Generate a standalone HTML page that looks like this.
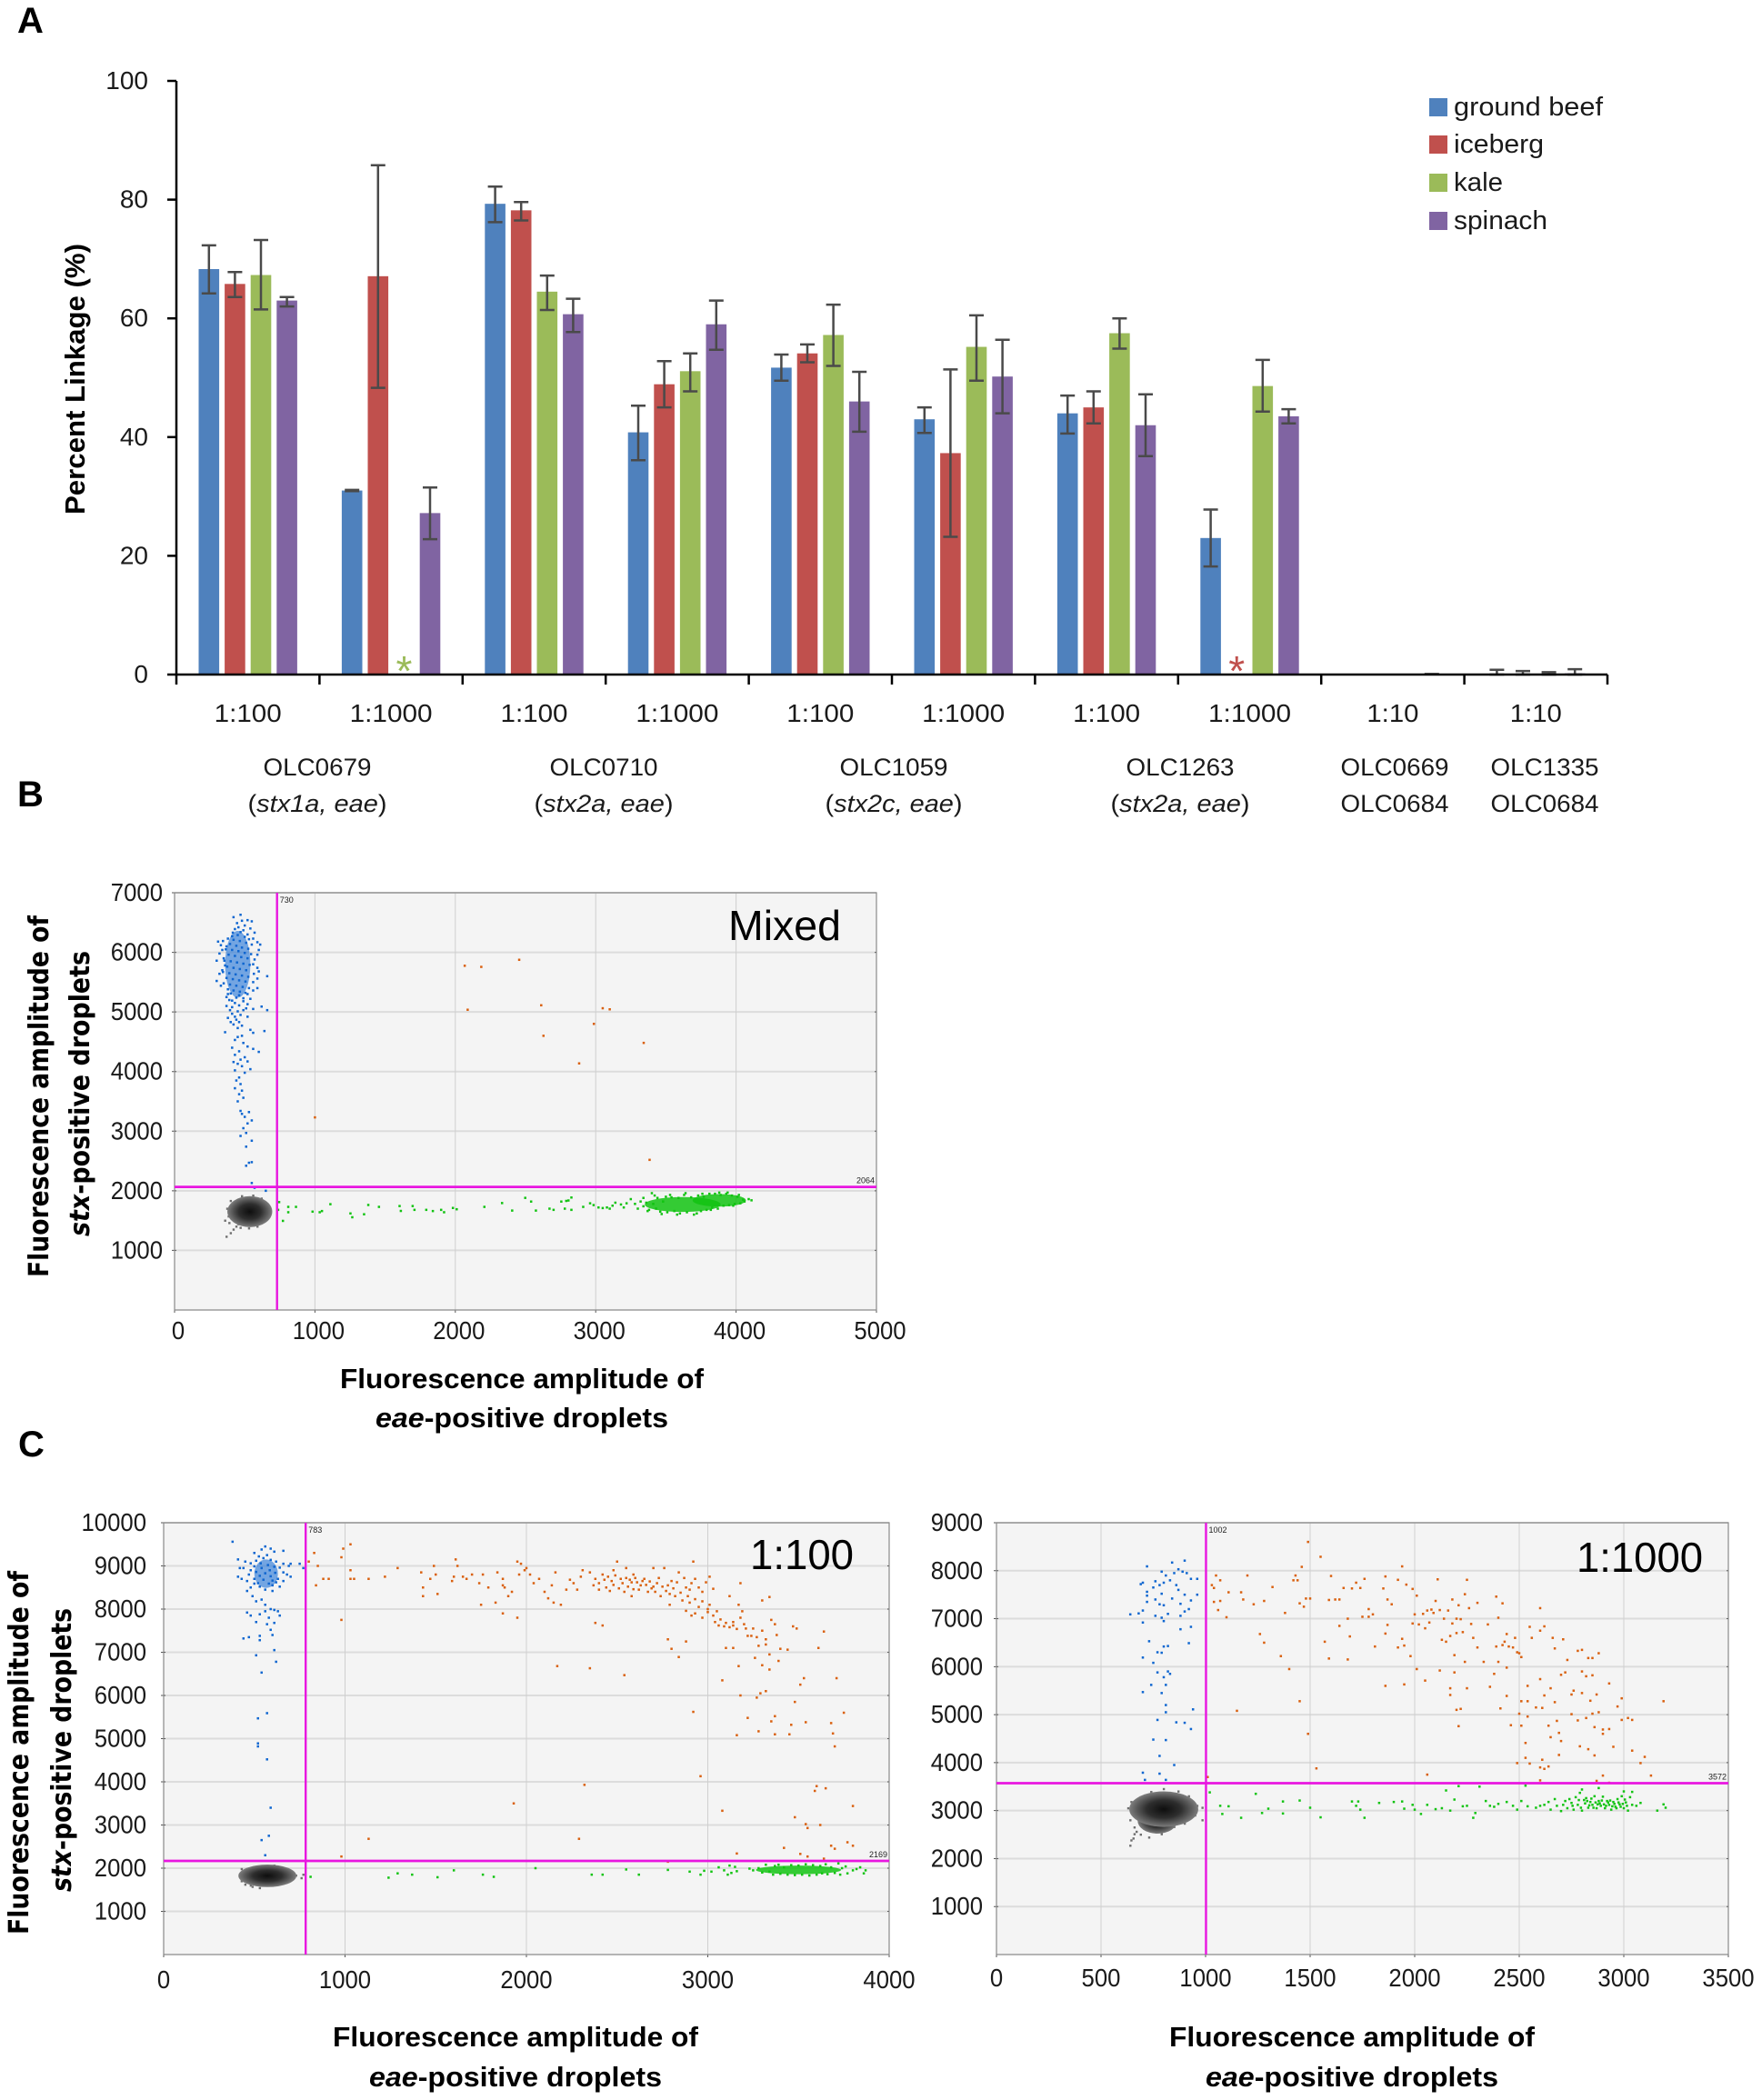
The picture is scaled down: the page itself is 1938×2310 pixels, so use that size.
<!DOCTYPE html>
<html lang="en">
<head>
<meta charset="utf-8">
<title>Percent linkage and droplet amplitude plots</title>
<style>
html,body{margin:0;padding:0;background:#fff}
svg{display:block}
text{font-family:"Liberation Sans",sans-serif;fill:#1a1a1a}
.panel{font-weight:bold;font-size:40px;fill:#000}
.tickA{font-size:28px}
.lab{font-size:27px}
.legend{font-size:29px}
.tick{font-size:28px}
.title{font-size:31px;font-weight:bold;fill:#000}
.ytitle{font-family:"DejaVu Sans",sans-serif;font-size:30px;font-weight:bold;fill:#000}
.big{font-size:46px;fill:#000}
.small{font-size:9px;fill:#222}
</style>
</head>
<body>
<svg id="figure" xmlns="http://www.w3.org/2000/svg" width="1938" height="2310" viewBox="0 0 1938 2310">
<defs>
<radialGradient id="greyBlob"><stop offset="0" stop-color="#0e0e0e"/><stop offset="0.5" stop-color="#2e2e2e"/><stop offset="0.8" stop-color="#5c5c5c"/><stop offset="1" stop-color="#7d7d7d"/></radialGradient>
</defs>
<rect width="1938" height="2310" fill="#fff"/>

<text class="panel" x="19" y="36">A</text>
<text class="panel" x="19" y="887">B</text>
<text class="panel" x="20" y="1602">C</text>

<g id="barChart"></g>
<text class="title" x="0" y="0" transform="translate(93 417) rotate(-90)" text-anchor="middle" textLength="298" lengthAdjust="spacingAndGlyphs">Percent Linkage (%)</text>

<g>
<text class="lab" x="349" y="853" text-anchor="middle" textLength="119" lengthAdjust="spacingAndGlyphs">OLC0679</text>
<text class="lab" x="349" y="893" text-anchor="middle" textLength="153" lengthAdjust="spacingAndGlyphs">(<tspan font-style="italic">stx1a, eae</tspan>)</text>
<text class="lab" x="664" y="853" text-anchor="middle" textLength="119" lengthAdjust="spacingAndGlyphs">OLC0710</text>
<text class="lab" x="664" y="893" text-anchor="middle" textLength="153" lengthAdjust="spacingAndGlyphs">(<tspan font-style="italic">stx2a, eae</tspan>)</text>
<text class="lab" x="983" y="853" text-anchor="middle" textLength="119" lengthAdjust="spacingAndGlyphs">OLC1059</text>
<text class="lab" x="983" y="893" text-anchor="middle" textLength="151" lengthAdjust="spacingAndGlyphs">(<tspan font-style="italic">stx2c, eae</tspan>)</text>
<text class="lab" x="1298" y="853" text-anchor="middle" textLength="119" lengthAdjust="spacingAndGlyphs">OLC1263</text>
<text class="lab" x="1298" y="893" text-anchor="middle" textLength="153" lengthAdjust="spacingAndGlyphs">(<tspan font-style="italic">stx2a, eae</tspan>)</text>
<text class="lab" x="1534" y="853" text-anchor="middle" textLength="119" lengthAdjust="spacingAndGlyphs">OLC0669</text>
<text class="lab" x="1534" y="893" text-anchor="middle" textLength="119" lengthAdjust="spacingAndGlyphs">OLC0684</text>
<text class="lab" x="1699" y="853" text-anchor="middle" textLength="119" lengthAdjust="spacingAndGlyphs">OLC1335</text>
<text class="lab" x="1699" y="893" text-anchor="middle" textLength="119" lengthAdjust="spacingAndGlyphs">OLC0684</text>
</g>

<g>
<rect x="1572" y="108" width="20" height="20" fill="#4f81bd"/>
<text class="legend" x="1599" y="127" textLength="164" lengthAdjust="spacingAndGlyphs">ground beef</text>
<rect x="1572" y="149" width="20" height="20" fill="#c0504d"/>
<text class="legend" x="1599" y="168" textLength="99" lengthAdjust="spacingAndGlyphs">iceberg</text>
<rect x="1572" y="191" width="20" height="20" fill="#9bbb59"/>
<text class="legend" x="1599" y="210" textLength="54" lengthAdjust="spacingAndGlyphs">kale</text>
<rect x="1572" y="233" width="20" height="20" fill="#8064a2"/>
<text class="legend" x="1599" y="252" textLength="103" lengthAdjust="spacingAndGlyphs">spinach</text>
</g>

<g id="plotMixed"></g>
<g id="plot100"></g>
<g id="plot1000"></g>

<text class="big" x="801" y="1034" textLength="124" lengthAdjust="spacingAndGlyphs">Mixed</text>
<text class="big" x="825" y="1726" textLength="114" lengthAdjust="spacingAndGlyphs">1:100</text>
<text class="big" x="1734" y="1729" textLength="139" lengthAdjust="spacingAndGlyphs">1:1000</text>

<text class="title" x="574" y="1527" text-anchor="middle" textLength="400" lengthAdjust="spacingAndGlyphs">Fluorescence amplitude of</text>
<text class="title" x="574" y="1570" text-anchor="middle" textLength="322" lengthAdjust="spacingAndGlyphs"><tspan font-style="italic">eae</tspan>-positive droplets</text>
<text class="ytitle" transform="translate(53 1206) rotate(-90)" text-anchor="middle" textLength="398" lengthAdjust="spacingAndGlyphs">Fluorescence amplitude of</text>
<text class="ytitle" transform="translate(98 1203) rotate(-90)" text-anchor="middle" textLength="314" lengthAdjust="spacingAndGlyphs"><tspan font-style="italic">stx</tspan>-positive droplets</text>

<text class="title" x="567" y="2251" text-anchor="middle" textLength="402" lengthAdjust="spacingAndGlyphs">Fluorescence amplitude of</text>
<text class="title" x="567" y="2295" text-anchor="middle" textLength="322" lengthAdjust="spacingAndGlyphs"><tspan font-style="italic">eae</tspan>-positive droplets</text>
<text class="ytitle" transform="translate(31 1928) rotate(-90)" text-anchor="middle" textLength="400" lengthAdjust="spacingAndGlyphs">Fluorescence amplitude of</text>
<text class="ytitle" transform="translate(78 1925) rotate(-90)" text-anchor="middle" textLength="312" lengthAdjust="spacingAndGlyphs"><tspan font-style="italic">stx</tspan>-positive droplets</text>

<text class="title" x="1487" y="2251" text-anchor="middle" textLength="402" lengthAdjust="spacingAndGlyphs">Fluorescence amplitude of</text>
<text class="title" x="1487" y="2295" text-anchor="middle" textLength="322" lengthAdjust="spacingAndGlyphs"><tspan font-style="italic">eae</tspan>-positive droplets</text>
</svg>

<script>
// ---------- Panel A data ----------
const dilutions = ["1:100","1:1000","1:100","1:1000","1:100","1:1000","1:100","1:1000","1:10","1:10"];
const barTicks = [0,20,40,60,80,100];
const groundBeef = [68.3,31,79.3,40.8,51.7,43,44,23,0,0];
const iceberg = [65.8,67.1,78.2,48.9,54.1,37.3,45,null,0,0];
const kale = [67.3,null,64.5,51.1,57.2,55.2,57.5,48.6,0,0];
const spinach = [63,27.2,60.7,59,46,50.2,42,43.5,0.1,0.2];
const groundBeefHigh = [72.3,31.1,82.2,45.3,53.9,45,47,27.8,0,0.8];
const groundBeefLow = [64.2,30.9,76.2,36.1,49.5,40.7,40.6,18.2,0,0];
const icebergHigh = [67.8,85.8,79.6,52.8,55.6,51.4,47.7,null,0,0.6];
const icebergLow = [63.6,48.3,76.5,45,52.6,23.2,42.3,null,0,0];
const kaleHigh = [73.2,null,67.2,54.1,62.3,60.5,60,53,0,0.4];
const kaleLow = [61.5,null,61.4,47.7,52,49.5,54.9,44.3,0,0];
const spinachHigh = [63.6,31.5,63.3,63,51,56.4,47.2,44.7,0.1,0.9];
const spinachLow = [62,22.8,57.7,54.7,40.9,44,36.8,42.3,0.1,0];

// ---------- Mixed plot data ----------
const mixedXTicks = [0,1000,2000,3000,4000,5000];
const mixedYTicks = [1000,2000,3000,4000,5000,6000,7000];
const mixedThreshold = [730,2064];
const mixedGrey = [[536,1650,160,260]];
const mixedFringe = [[370,1230],[400,1290],[420,1350],[440,1400],[455,1440],[390,1460],[360,1500],[640,1530],[670,1600],[680,1680],[660,1780],[620,1870],[560,1920],[480,1910],[400,1830],[375,1700],[385,1570],[470,1380],[530,1370],[590,1400]];
const mixedBlueCore = [[450,5800,90,560]];
const mixedGreenCore = [[3620,1770,270,125],[3880,1840,190,105]];
const mixedBlue = [[470,6630],[420,6590],[520,6540],[480,6530],[550,6520],[445,6490],[500,6450],[540,6400],[430,6390],[470,6340],[570,6330],[520,6300],[410,6270],[560,6230],[590,6170],[310,6180],[345,6190],[330,6120],[610,6130],[370,6100],[600,6040],[340,6040],[320,5980],[590,5960],[350,5900],[570,5880],[300,5860],[560,5800],[360,5780],[590,5740],[340,5700],[600,5680],[320,5640],[660,5600],[590,5560],[300,5520],[350,5480],[560,5500],[330,5440],[590,5400],[380,5380],[560,5360],[400,5310],[520,5300],[370,5250],[460,5280],[540,5220],[390,5200],[430,5150],[490,5180],[620,5090],[370,5100],[410,5080],[560,5050],[660,5030],[450,5010],[490,5030],[410,4970],[470,4950],[380,4900],[520,4920],[440,4870],[460,4830],[420,4790],[480,4770],[450,4730],[640,4680],[360,4660],[540,4700],[560,4650],[480,4600],[450,4580],[430,4530],[490,4480],[520,4420],[410,4400],[560,4380],[460,4340],[600,4330],[430,4280],[500,4240],[470,4200],[420,4160],[520,4170],[450,4130],[480,4090],[540,4040],[430,4020],[500,3980],[460,3900],[440,3850],[470,3790],[430,3720],[480,3680],[460,3620],[490,3560],[450,3500],[470,3340],[480,3290],[530,3320],[500,3240],[550,3180],[520,3130],[490,3050],[470,2920],[510,2970],[550,2840],[510,2740],[530,2470],[510,2420],[550,2480],[550,2130],[570,2050],[650,2000],[455,6420],[490,6370],[415,6330],[450,6290],[500,6260],[530,6220],[380,6230],[420,6210],[465,6190],[510,6160],[550,6130],[395,6140],[440,6110],[480,6080],[525,6060],[365,6050],[410,6040],[455,6020],[500,5990],[545,5970],[385,5960],[430,5940],[475,5920],[520,5900],[355,5860],[400,5850],[445,5830],[490,5810],[535,5790],[375,5760],[420,5740],[465,5720],[510,5700],[345,5670],[390,5650],[435,5630],[480,5610],[525,5590],[565,5640],[370,5570],[415,5550],[460,5530],[505,5510],[395,5460],[440,5440],[485,5420],[530,5400],[420,5360],[465,5340],[505,5320],[380,5300],[440,5240],[490,5230],[410,5190],[520,5130],[460,5110],[395,5030],[510,5060],[430,4920],[400,4830]];
const mixedOrange = [[2067,5775],[2185,5756],[2455,5875],[2088,5037],[2612,5112],[2628,4600],[3050,5062],[3100,5044],[2987,4800],[2882,4137],[3342,4481],[3384,2519],[1000,3231]];
const mixedGreen = [[738,1680],[745,1810],[810,1730],[810,1640],[772,1495],[865,1730],[983,1650],[1034,1640],[1050,1660],[1110,1775],[1253,1620],[1266,1556],[1350,1606],[1380,1762],[1456,1730],[1603,1744],[1612,1662],[1696,1744],[1709,1680],[1793,1680],[1840,1660],[1899,1680],[1920,1640],[1983,1712],[2010,1690],[2207,1730],[2333,1794],[2405,1668],[2498,1881],[2540,1819],[2574,1668],[2671,1700],[2700,1680],[2755,1819],[2790,1830],[2806,1837],[2827,1887],[2827,1680],[2780,1700],[2911,1730],[2960,1790],[2985,1760],[3020,1720],[3050,1710],[3080,1720],[3100,1700],[3120,1750],[3140,1800],[3180,1770],[3200,1720],[3220,1790],[3250,1860],[3280,1780],[3300,1700],[3320,1820],[3340,1740],[3360,1800],[3380,1680],[3400,1960],[3410,1780],[3430,1700],[3440,1880],[3460,1650],[3480,1820],[3500,1900],[3510,1640],[3540,1890],[3560,1660],[3590,1880],[3600,1620],[3630,1930],[3650,1640],[3680,1890],[3700,1600],[3730,1920],[3750,1660],[3770,1900],[3790,1680],[3810,1950],[3830,1720],[3850,1950],[3870,1700],[3890,1930],[3910,1750],[3930,1950],[3950,1760],[3970,1920],[3990,1780],[4010,1900],[4030,1790],[4050,1850],[4090,1860],[4110,1840],[3340,1880],[3370,1660],[3420,1920],[3470,1610],[3530,1930],[3580,1600],[3640,1960],[3720,1620],[3760,1950],[3820,1680],[3880,1970],[3940,1970],[3980,1750],[4020,1930],[4060,1820]];

// ---------- 1:100 plot data ----------
const d100XTicks = [0,1000,2000,3000,4000];
const d100YTicks = [1000,2000,3000,4000,5000,6000,7000,8000,9000,10000];
const d100Threshold = [783,2169];
const d100Grey = [[572,1823,160,260]];
const d100Fringe = [[450,1620],[490,1570],[530,1540],[580,1600],[620,1620],[430,1700],[420,1850],[430,1980],[500,2030],[610,2060],[660,1980],[700,1920],[730,1830],[770,1850],[760,1770],[700,1730],[480,1600]];
const d100BlueCore = [[565,8820,65,330]];
const d100GreenCore = [[3500,1960,235,100]];
const d100Blue = [[380,9560],[560,9450],[590,9400],[540,9380],[500,9300],[570,9250],[610,9330],[660,9350],[450,9100],[410,9150],[510,9120],[620,9100],[660,9050],[700,9050],[750,9050],[770,8950],[690,9000],[440,8950],[420,8950],[480,8900],[660,8850],[680,8800],[700,8750],[410,8750],[430,8700],[460,8650],[630,8700],[520,8600],[660,8650],[600,8550],[640,8520],[480,8500],[560,8450],[600,8420],[490,8300],[540,8220],[510,8180],[560,8100],[590,8000],[610,7980],[560,7950],[630,7950],[460,7920],[480,7850],[530,7880],[580,7800],[640,7850],[510,7700],[570,7650],[610,7680],[590,7520],[530,7380],[470,7350],[440,7320],[600,7400],[530,7280],[610,7050],[510,6930],[620,6780],[540,6530],[520,5470],[570,5590],[520,4890],[520,4820],[570,4520],[590,3400],[580,2750],[540,2650],[560,2300],[525,9220],[550,9180],[590,9140],[535,9060],[480,9060],[575,9020],[610,8980],[500,8990],[540,8950],[640,8960],[585,8900],[510,8860],[560,8830],[615,8840],[470,8800],[530,8770],[590,8760],[500,8700],[550,8680],[600,8660],[500,8590],[580,8590],[620,8620],[530,8520],[460,8420]];
const d100Orange = [[800,9100],[830,9300],[850,9000],[840,8550],[880,8700],[910,8700],[990,9400],[980,9200],[1030,9500],[1030,8900],[1030,8700],[1050,8700],[1130,8700],[1220,8750],[1290,8950],[1420,8850],[1430,8500],[1430,8300],[1470,8700],[1490,9000],[1500,8800],[1510,8350],[980,7750],[1590,8650],[1600,8750],[1610,9150],[1620,9000],[1650,8750],[1670,8700],[1700,8800],[1740,8600],[1760,8800],[1750,8100],[1790,8500],[1830,8150],[1840,8850],[1870,8700],[1880,8500],[1870,7900],[1920,8400],[1950,9100],[1960,8800],[1970,9050],[1990,8900],[1950,7800],[2000,8950],[2020,8800],[1900,8300],[1870,8550],[2040,8600],[2070,8700],[2100,8400],[2120,8250],[2140,8550],[2160,8850],[2150,8150],[2190,8100],[2220,8450],[2240,8680],[2260,8600],[2280,8450],[2300,8750],[2310,8900],[2350,8850],[2370,8550],[2380,8700],[2400,8600],[2420,8800],[2440,8500],[2460,8420],[2470,8650],[2480,8900],[2500,9100],[2520,8700],[2540,8400],[2550,8950],[2570,8680],[2580,8300],[2590,8800],[2610,8620],[2630,8550],[2650,8700],[2670,8400],[2690,8480],[2700,8950],[2720,8600],[2740,8300],[2760,8950],[2780,8550],[2790,8100],[2800,8650],[2820,8300],[2840,8850],[2860,8200],[2880,8500],[2900,8450],[2910,7850],[2920,9100],[2930,8700],[2950,8050],[2970,8400],[3000,8000],[3010,8750],[3030,7850],[3060,7620],[3090,7600],[3120,8300],[3140,7700],[3170,8100],[3200,7650],[3180,8600],[3190,7950],[3220,7380],[3250,7550],[3280,7150],[3300,8200],[3320,7300],[3340,8280],[3350,7750],[3370,7650],[3400,7080],[3440,7060],[3470,7600],[3490,7550],[3510,6250],[3530,6400],[3610,7100],[3640,7480],[3710,6400],[3100,7100],[3140,7100],[3170,6680],[3260,6870],[3300,6700],[3340,6950],[3390,6800],[3340,6600],[3180,6000],[3270,5950],[3290,6050],[3320,6100],[3480,5850],[3220,5480],[3350,5400],[3370,5520],[3460,5320],[3540,5380],[3680,5360],[3690,5120],[3750,5600],[3160,5080],[3280,5170],[3370,5100],[3450,5100],[3700,4820],[2920,5620],[3080,6350],[2540,6470],[2170,6680],[2350,6630],[2780,7300],[2800,7080],[2840,6890],[2880,7250],[2420,7620],[2380,7680],[2960,4130],[2320,3930],[1930,3500],[3600,3900],[3590,3790],[3650,3850],[3800,3440],[3480,3180],[3080,3330],[3540,3020],[3550,2930],[3620,3000],[1130,2680],[2290,2680],[3680,2520],[3700,2450],[3770,2600],[3800,2520],[3420,2470],[3160,2340],[3510,2330],[3550,2270],[3640,2220],[980,2270],[2780,2150],[2400,8450],[2430,8680],[2450,8750],[2480,8560],[2490,8780],[2510,8480],[2530,8600],[2550,8720],[2560,8520],[2580,8620],[2590,8460],[2600,8720],[2620,8450],[2640,8650],[2660,8560],[2680,8640],[2700,8520],[2710,8400],[2730,8720],[2750,8520],[2770,8420],[2790,8350],[2810,8480],[2830,8620],[2850,8380],[2870,8720],[2890,8300],[2910,8600],[2930,8230],[2950,8500],[2970,8180],[2990,8620],[3010,8100],[3030,8470],[3050,7950],[3070,7760],[3100,7680],[3120,7580],[3140,7620],[3160,7540],[3180,7800],[3210,7550],[3240,7380],[3270,7350],[3300,7500],[3320,7180],[3380,7400],[2880,7960],[2900,8150],[2930,7900],[2970,7800],[3000,7930],[3040,7700]];
const d100Green = [[810,1800],[1240,1780],[1290,1880],[1370,1850],[1510,1790],[1600,1950],[1760,1850],[1820,1800],[2050,2000],[2360,1850],[2420,1850],[2550,1970],[2620,1850],[2780,1960],[2900,1920],[2960,1850],[2980,1940],[3020,1920],[3060,2020],[3090,1950],[3110,1850],[3120,2060],[3130,1890],[3150,2030],[3160,1930],[3230,1990],[3250,1950],[3280,2000],[3300,1900],[3320,2080],[3340,1920],[3360,1850],[3370,2050],[3390,2080],[3400,1870],[3420,2020],[3440,1850],[3460,2070],[3480,1840],[3500,2060],[3520,1850],[3540,2090],[3560,1830],[3580,2070],[3600,1850],[3620,2050],[3630,1880],[3650,2090],[3660,1860],[3680,2020],[3700,1890],[3720,2110],[3730,1850],[3740,2000],[3760,2040],[3770,1880],[3800,1950],[3820,1980],[3840,2020],[3860,1880],[3870,1950]];

// ---------- 1:1000 plot data ----------
const d1000XTicks = [0,500,1000,1500,2000,2500,3000,3500];
const d1000YTicks = [1000,2000,3000,4000,5000,6000,7000,8000,9000];
const d1000Threshold = [1002,3572];
const d1000Grey = [[770,2790,95,270],[800,3030,165,370]];
const d1000Fringe = [[640,2270],[645,2380],[655,2420],[660,2510],[670,2560],[690,2500],[660,2650],[640,2800],[630,3050],[645,3180],[690,3280],[740,3390],[800,3450],[870,3400],[920,3300],[960,3100],[985,3060],[985,2800],[950,2900],[900,2730],[850,2660],[790,2510],[730,2440],[720,2600]];
const d1000Blue = [[720,8090],[840,8170],[900,8210],[870,8030],[790,7980],[810,7900],[850,7950],[890,7980],[910,7950],[960,7830],[930,7830],[700,7750],[690,7720],[760,7780],[780,7700],[830,7800],[860,7700],[800,7750],[750,7650],[720,7560],[720,7480],[790,7520],[870,7600],[960,7500],[930,7380],[900,7500],[760,7400],[720,7350],[780,7300],[800,7280],[840,7420],[880,7310],[920,7200],[700,7170],[640,7090],[680,7110],[760,7060],[790,7020],[820,7100],[880,7060],[900,7150],[700,6920],[800,6950],[880,6780],[930,6830],[730,6530],[820,6430],[800,6420],[920,6490],[770,6300],[790,6290],[700,6190],[750,6080],[770,5880],[820,5900],[830,5850],[800,5780],[740,5620],[810,5620],[700,5470],[790,5450],[810,5200],[940,5110],[810,5050],[770,4890],[860,4840],[900,4830],[930,4700],[750,4480],[810,4470],[780,4140],[850,3950],[700,3790],[780,3770],[710,3640],[810,3640]];
const d1000Orange = [[1030,7700],[1040,7640],[1050,7900],[1070,7800],[1040,7350],[1070,7370],[1060,7180],[1100,7030],[1110,7550],[1170,7550],[1180,7400],[1200,7900],[1230,7300],[1280,7370],[1320,7660],[1260,6680],[1280,6500],[1380,7120],[1360,6220],[1400,5950],[1420,7800],[1430,7900],[1440,7800],[1450,7320],[1460,8080],[1470,7250],[1480,7420],[1500,7420],[1490,8600],[1550,8290],[1590,7390],[1600,7890],[1620,7400],[1640,7400],[1660,7640],[1640,6850],[1570,6520],[1590,6170],[1680,6150],[1680,7000],[1690,6630],[1700,7630],[1720,7750],[1740,7640],[1760,7830],[1780,7200],[1750,7040],[1780,7040],[1800,7090],[1810,6420],[1860,7880],[1870,7400],[1870,6870],[1860,6690],[1850,7630],[1920,7810],[1940,8090],[1890,7300],[1920,6400],[1950,6440],[1960,7710],[1990,7620],[1980,6220],[2010,7480],[1990,6900],[2000,7090],[2020,6880],[2040,7100],[2050,6800],[2080,7190],[2100,7370],[2110,7820],[2120,7180],[2140,7000],[2150,6520],[2170,6640],[2180,7400],[2190,6240],[2200,6700],[2210,7280],[2220,6990],[2240,7510],[2250,7810],[2260,7220],[2270,6890],[2280,6600],[2300,7330],[2300,6400],[2330,6100],[2350,6880],[2390,7460],[2400,7020],[2420,7320],[2440,6680],[2450,6420],[2480,6600],[2490,6300],[2510,6200],[2550,6830],[2560,6600],[2600,6750],[2600,7220],[2620,6840],[2660,6600],[2670,6380],[2710,6570],[2730,6140],[2780,6330],[2800,6350],[2830,6180],[2880,6280],[2930,5650],[2850,6180],[2240,6100],[2190,5880],[2120,5920],[2050,5710],[2010,5950],[1950,5630],[1860,5600],[1940,6580],[2400,6100],[2440,5980],[2380,5850],[2360,5580],[2250,5550],[2170,5550],[2170,5410],[2200,5100],[2220,5120],[2210,4760],[2440,5390],[2410,5130],[2540,5600],[2600,5740],[2620,5400],[2650,5550],[2670,5260],[2700,5830],[2720,5880],[2750,5420],[2760,5500],[2800,5450],[2820,5800],[2850,5820],[2870,5420],[2840,5290],[2800,5900],[2970,5170],[2990,5340],[2510,5280],[2540,5280],[2610,5140],[2580,5150],[2500,5020],[2540,4960],[2460,4780],[2510,4770],[2750,5010],[2780,4880],[2820,4930],[2850,5020],[2880,5050],[2860,4740],[2900,4690],[2930,4700],[2900,4600],[2990,4890],[3020,4930],[3040,4890],[2530,4410],[2640,4770],[2680,4870],[2650,4530],[2690,4620],[2700,4450],[2690,4160],[2790,4340],[2830,4280],[2860,4150],[2950,4330],[3040,4250],[3080,3990],[3100,4120],[2530,4100],[2490,3990],[2550,3980],[2600,3900],[2620,3870],[2640,3920],[2610,4060],[3130,3730],[3190,5280],[1450,5280],[1150,5080],[1490,4600],[1530,3880],[2060,3750],[2600,3630],[2870,3620],[2900,3730],[2930,3580],[1010,3700],[2130,6560],[2160,7170],[2200,7000],[2230,6720],[2180,6900],[2420,6450],[2430,6520],[2470,6400],[2500,6280],[2390,6420],[2070,6920],[2090,7120],[2060,7170]];
const d1000Green = [[1020,3380],[1070,3100],[1080,2930],[1110,3090],[1170,2850],[1240,3350],[1270,2950],[1300,3040],[1370,3190],[1370,2940],[1450,3210],[1500,3060],[1550,2860],[1700,3190],[1720,3100],[1730,3190],[1740,3020],[1760,2850],[1830,3160],[1900,3180],[1940,3190],[1950,3040],[1990,3120],[2000,3020],[2030,2930],[2060,3120],[2100,3030],[2130,3050],[2150,3420],[2170,3000],[2190,3230],[2210,3510],[2230,3090],[2250,3100],[2280,2850],[2290,2950],[2310,3500],[2340,3200],[2360,3100],[2380,3080],[2400,3140],[2440,3180],[2470,3100],[2490,3020],[2510,3200],[2530,3520],[2540,3090],[2580,3060],[2600,3100],[2620,3120],[2640,3180],[2650,3020],[2670,3240],[2680,3100],[2700,2990],[2720,3200],[2730,3050],[2750,3160],[2760,3020],[2770,3280],[2780,3120],[2790,3370],[2800,3000],[2810,3220],[2820,3260],[2830,3060],[2840,3180],[2850,3120],[2860,3300],[2870,3050],[2880,3200],[2890,3100],[2900,3290],[2910,3050],[2920,3200],[2930,3120],[2940,3020],[2950,3180],[2960,3080],[2970,3240],[2980,3130],[2990,3300],[3000,3050],[3010,3170],[3020,3000],[3030,3280],[3040,3120],[3060,3100],[3080,3160],[3160,3000],[3190,3130],[3200,3060],[2880,3470],[2800,3440],[3000,3400],[3040,3390],[2710,3120],[2740,3240],[2755,3100],[2785,3220],[2795,3060],[2815,3150],[2825,3200],[2835,3110],[2845,3250],[2855,3060],[2865,3170],[2875,3130],[2885,3150],[2895,3210],[2905,3130],[2915,3100],[2925,3170],[2935,3210],[2945,3090],[2955,3140],[2965,3050],[2975,3170],[2985,3080],[2995,3140],[3005,3230],[3015,3100]];

// ---------- helpers ----------
const NS = "http://www.w3.org/2000/svg";
function node(parent, tag, attrs) {
  const el = document.createElementNS(NS, tag);
  for (const k in attrs) el.setAttribute(k, attrs[k]);
  parent.appendChild(el);
  return el;
}
function label(parent, cls, x, y, anchor, str, width) {
  const el = node(parent, "text", {class: cls, x: x, y: y, "text-anchor": anchor});
  if (width) { el.setAttribute("textLength", width); el.setAttribute("lengthAdjust", "spacingAndGlyphs"); }
  el.textContent = str;
  return el;
}

// ---------- Panel A ----------
(function () {
  const g = document.getElementById("barChart");
  const left = 194, right = 1768, top = 89, zero = 742;
  const yScale = v => zero - (zero - top) * v / 100;
  const groupW = (right - left) / dilutions.length;
  const barW = 22.6, step = 28.6, pad = 24.5;
  const xBar = (c, s) => left + groupW * c + pad + step * s;
  const series = [
    {v: groundBeef, hi: groundBeefHigh, lo: groundBeefLow, color: "#4f81bd"},
    {v: iceberg, hi: icebergHigh, lo: icebergLow, color: "#c0504d"},
    {v: kale, hi: kaleHigh, lo: kaleLow, color: "#9bbb59"},
    {v: spinach, hi: spinachHigh, lo: spinachLow, color: "#8064a2"}
  ];
  series.forEach((s, si) => {
    s.v.forEach((val, c) => {
      const x = xBar(c, si);
      if (val === null) {
        const star = label(g, "asterisk", x + barW / 2, zero + 12, "middle", "*");
        star.setAttribute("style", "font-size:46px;fill:" + s.color);
        
        
        return;
      }
      const bar = node(g, "rect", {x: x, y: yScale(val), width: barW, height: zero - yScale(val), fill: s.color});
      
      
    });
  });
  series.forEach((s, si) => {
    s.v.forEach((val, c) => {
      if (val === null || s.hi[c] === null || s.hi[c] === 0) return;
      const cx = xBar(c, si) + barW / 2;
      const err = node(g, "path", {
        d: "M" + cx + " " + yScale(s.hi[c]) + "V" + yScale(s.lo[c]) +
           "M" + (cx - 8) + " " + yScale(s.hi[c]) + "H" + (cx + 8) +
           "M" + (cx - 8) + " " + yScale(s.lo[c]) + "H" + (cx + 8),
        stroke: "#4a4a4a", "stroke-width": 2.5, fill: "none"});
      
      
    });
  });
  const yAxis = node(g, "path", {d: "M" + left + " " + top + "V" + zero + "H" + right, stroke: "#000", "stroke-width": 2.5, fill: "none"});
  
  
  barTicks.forEach(t => {
    const tick = node(g, "line", {x1: left - 10, x2: left, y1: yScale(t), y2: yScale(t), stroke: "#000", "stroke-width": 2.5});
    
    
    const txt = label(g, "tickA", 163, yScale(t) + 9, "end", String(t));
    
    
  });
  for (let i = 0; i <= dilutions.length; i++) {
    const tick = node(g, "line", {x1: left + groupW * i, x2: left + groupW * i, y1: zero, y2: zero + 11, stroke: "#000", "stroke-width": 2.5});
    
    
  }
  dilutions.forEach((d, i) => {
    const w = d.length === 5 ? 74 : d.length === 6 ? 91 : 57;
    const txt = label(g, "tickA", left + groupW * (i + 0.5), 794, "middle", d, w);
    
    
  });
})();

// ---------- Scatter plots ----------
function scatter(cfg) {
  const g = document.getElementById(cfg.id);
  const sx = v => cfg.left + (cfg.right - cfg.left) * v / cfg.xMax;
  const sy = v => cfg.bottom - (cfg.bottom - cfg.top) * v / cfg.yMax;
  const bg = node(g, "rect", {x: cfg.left, y: cfg.top, width: cfg.right - cfg.left, height: cfg.bottom - cfg.top, fill: "#f4f4f4"});
  
  
  cfg.yTicks.forEach(t => {
    const grid = node(g, "line", {x1: cfg.left, x2: cfg.right, y1: sy(t), y2: sy(t), stroke: "#dcdcdc", "stroke-width": 2});
    
    
    const tick = node(g, "path", {d: "M" + (cfg.left - 3) + " " + sy(t) + "H" + (cfg.left + 2) + "M" + (cfg.right - 2) + " " + sy(t) + "H" + cfg.right, stroke: "#555", "stroke-width": 1});
    
    
    const txt = label(g, "tick", cfg.yLabelX, sy(t) + 9, "end", String(t), String(t).length * 14.3);
    
    
  });
  cfg.xTicks.forEach(t => {
    if (t > 0 && t < cfg.xMax) {
      const grid = node(g, "line", {x1: sx(t), x2: sx(t), y1: cfg.top, y2: cfg.bottom, stroke: "#cfcfcf", "stroke-width": 1});
      
      
    }
    const tick = node(g, "line", {x1: sx(t), x2: sx(t), y1: cfg.bottom, y2: cfg.bottom + 3, stroke: "#555", "stroke-width": 1});
    
    
    const txt = label(g, "tick", sx(t) + cfg.xLabelOffset, cfg.xLabelY, "middle", String(t), String(t).length * 14.3);
    
    
  });
  const frame = node(g, "path", {d: "M" + cfg.left + " " + cfg.top + "V" + cfg.bottom + "H" + cfg.right + "V" + cfg.top + "Z", fill: "none", stroke: "#8a8a8a", "stroke-width": 1.2});
  
  

  (cfg.fringe || []).forEach(p => {
    const d = node(g, "rect", {x: sx(p[0]) - 1.1, y: sy(p[1]) - 1.1, width: 2.4, height: 2.4, fill: "#6e6e6e"});
    
    
  });
  (cfg.grey || []).forEach(b => {
    const e = node(g, "ellipse", {cx: sx(b[0]), cy: sy(b[1]), rx: (cfg.right - cfg.left) * b[2] / cfg.xMax, ry: (cfg.bottom - cfg.top) * b[3] / cfg.yMax, fill: "url(#greyBlob)"});
    
    
  });
  (cfg.blueCore || []).forEach(b => {
    const e = node(g, "ellipse", {cx: sx(b[0]), cy: sy(b[1]), rx: (cfg.right - cfg.left) * b[2] / cfg.xMax, ry: (cfg.bottom - cfg.top) * b[3] / cfg.yMax, fill: "#1c6fd6", opacity: 0.6});
    
    
  });
  (cfg.greenCore || []).forEach(b => {
    const e = node(g, "ellipse", {cx: sx(b[0]), cy: sy(b[1]), rx: (cfg.right - cfg.left) * b[2] / cfg.xMax, ry: (cfg.bottom - cfg.top) * b[3] / cfg.yMax, fill: "#12c312", opacity: 0.85});
    
    
  });
  cfg.blue.forEach(p => {
    const d = node(g, "rect", {x: sx(p[0]) - 1.25, y: sy(p[1]) - 1.25, width: 2.5, height: 2.5, fill: "#0f66d0"});
    
    
  });
  cfg.orange.forEach(p => {
    const d = node(g, "rect", {x: sx(p[0]) - 1.25, y: sy(p[1]) - 1.25, width: 2.5, height: 2.5, fill: "#d9600f"});
    
    
  });
  cfg.green.forEach(p => {
    const d = node(g, "rect", {x: sx(p[0]) - 1.25, y: sy(p[1]) - 1.25, width: 2.5, height: 2.5, fill: "#12c312"});
    
    
  });
  const vLine = node(g, "line", {x1: sx(cfg.threshold[0]), x2: sx(cfg.threshold[0]), y1: cfg.top, y2: cfg.bottom, stroke: "#e816e0", "stroke-width": 2.4});
  
  
  const hLine = node(g, "line", {x1: cfg.left, x2: cfg.right, y1: sy(cfg.threshold[1]), y2: sy(cfg.threshold[1]), stroke: "#e816e0", "stroke-width": 2.8});
  
  
  const vt = label(g, "small", sx(cfg.threshold[0]) + 3, cfg.top + 11, "start", String(cfg.threshold[0]));
  
  
  const ht = label(g, "small", cfg.right - 2, sy(cfg.threshold[1]) - 4, "end", String(cfg.threshold[1]));
  
  
}

scatter({id: "plotMixed", left: 192, right: 964, top: 982, bottom: 1441, xMax: 5000, yMax: 7000,
  xTicks: mixedXTicks, yTicks: mixedYTicks, threshold: mixedThreshold, yLabelX: 179, xLabelY: 1473, xLabelOffset: 4,
  grey: mixedGrey, fringe: mixedFringe, blueCore: mixedBlueCore, greenCore: mixedGreenCore, blue: mixedBlue, orange: mixedOrange, green: mixedGreen});
scatter({id: "plot100", left: 180, right: 978, top: 1675, bottom: 2150, xMax: 4000, yMax: 10000,
  xTicks: d100XTicks, yTicks: d100YTicks, threshold: d100Threshold, yLabelX: 161, xLabelY: 2187, xLabelOffset: 0,
  grey: d100Grey, fringe: d100Fringe, blueCore: d100BlueCore, greenCore: d100GreenCore, blue: d100Blue, orange: d100Orange, green: d100Green});
scatter({id: "plot1000", left: 1096, right: 1901, top: 1675, bottom: 2150, xMax: 3500, yMax: 9000,
  xTicks: d1000XTicks, yTicks: d1000YTicks, threshold: d1000Threshold, yLabelX: 1081, xLabelY: 2185, xLabelOffset: 0,
  grey: d1000Grey, fringe: d1000Fringe, blue: d1000Blue, orange: d1000Orange, green: d1000Green});
</script>
</body>
</html>
